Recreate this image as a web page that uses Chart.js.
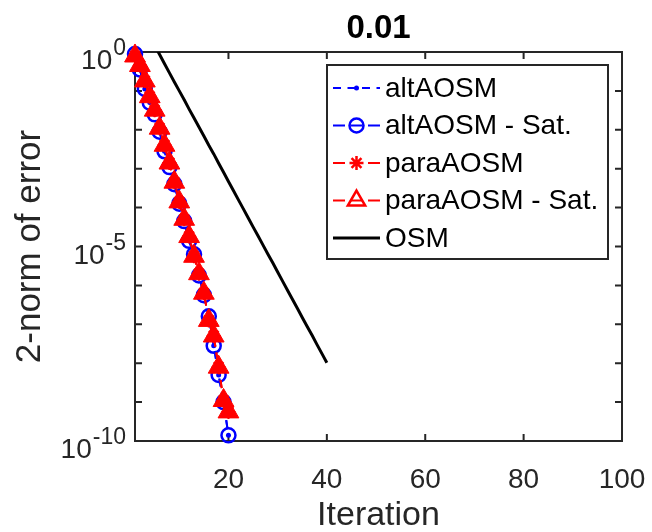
<!DOCTYPE html>
<html>
<head>
    <meta charset="utf-8">
    <title>0.01</title>
    <script src="https://cdn.jsdelivr.net/npm/chart.js"></script>
</head>
<body style="margin:0; background-color:white;">
<div style="width:652px; height:532px;">
    <canvas id="myChart"></canvas>
</div>
<script>
    // iterations 1..20 for the accelerated methods
    const iterations = [1, 2, 3, 4, 5, 6, 7, 8, 9, 10, 11, 12, 13, 14, 15, 16, 17, 18, 19, 20];
    const altAOSMErr = [0.89, 0.355, 0.112, 5.0e-2, 2.5e-2, 8.9e-3, 2.8e-3, 1.1e-3, 4.0e-4, 1.26e-4,
        4.5e-5, 1.4e-5, 6.3e-6, 1.8e-6, 5.6e-7, 1.6e-7, 2.8e-8, 5.0e-9, 1.0e-9, 1.4e-10];
    const paraAOSMErr = [0.79, 0.45, 0.18, 7.1e-2, 3.2e-2, 1.1e-2, 4.0e-3, 1.4e-3, 4.5e-4, 1.4e-4,
        5.0e-5, 1.8e-5, 5.6e-6, 2.0e-6, 6.3e-7, 1.26e-7, 5.0e-8, 7.9e-9, 1.1e-9, 5.6e-10];
    // the plain OSM runs to 40 iterations
    const osmIterations = [1, 2, 3, 4, 5, 6, 7, 8, 9, 10, 11, 12, 13, 14, 15, 16, 17, 18, 19, 20,
        21, 22, 23, 24, 25, 26, 27, 28, 29, 30, 31, 32, 33, 34, 35, 36, 37, 38, 39, 40];
    const osmErr = [12.6, 7.4, 4.3, 2.5, 1.47, 0.86, 0.50, 0.29, 0.17, 0.10,
        5.9e-2, 3.4e-2, 2.0e-2, 1.18e-2, 6.9e-3, 4.0e-3, 2.4e-3, 1.38e-3, 8.1e-4, 4.7e-4,
        2.75e-4, 1.6e-4, 9.4e-5, 5.5e-5, 3.2e-5, 1.9e-5, 1.1e-5, 6.4e-6, 3.8e-6, 2.2e-6,
        1.29e-6, 7.5e-7, 4.4e-7, 2.6e-7, 1.5e-7, 8.8e-8, 5.2e-8, 3.0e-8, 1.76e-8, 1.03e-8];

    const xTicks = [20, 40, 60, 80, 100];
    const yDecades = [0, -1, -2, -3, -4, -5, -6, -7, -8, -9, -10];
    const yLabelExps = [0, -5, -10];

    const FONT = '"Liberation Sans", Arial, sans-serif';
    const AXIS = '#262626';

    function pts(xs, ys) {
        return xs.map((x, i) => ({x: x, y: ys[i]}));
    }

    const matlabLook = {
        id: 'matlabLook',
        beforeDatasetsDraw(chart) {
            const {ctx, chartArea: a, scales: {x, y}} = chart;
            ctx.save();
            ctx.strokeStyle = AXIS;
            ctx.lineWidth = 2;
            ctx.strokeRect(a.left, a.top, a.right - a.left, a.bottom - a.top);
            const tl = 7;
            ctx.beginPath();
            xTicks.forEach(v => {
                const px = x.getPixelForValue(v);
                ctx.moveTo(px, a.bottom); ctx.lineTo(px, a.bottom - tl);
                ctx.moveTo(px, a.top); ctx.lineTo(px, a.top + tl);
            });
            yDecades.forEach(e => {
                const py = y.getPixelForValue(Math.pow(10, e));
                ctx.moveTo(a.left, py); ctx.lineTo(a.left + tl, py);
                ctx.moveTo(a.right, py); ctx.lineTo(a.right - tl, py);
            });
            ctx.stroke();
            ctx.restore();
        },
        afterDraw(chart) {
            const {ctx, chartArea: a, scales: {y}} = chart;
            ctx.save();

            // title
            ctx.fillStyle = '#000';
            ctx.font = 'bold 33px ' + FONT;
            ctx.textAlign = 'center';
            ctx.textBaseline = 'alphabetic';
            ctx.fillText('0.01', (a.left + a.right) / 2, 38);

            // y tick labels 10^n
            ctx.fillStyle = AXIS;
            yLabelExps.forEach(e => {
                const py = y.getPixelForValue(Math.pow(10, e));
                const exp = String(e);
                ctx.font = '23px ' + FONT;
                const ew = ctx.measureText(exp).width;
                ctx.textAlign = 'right';
                ctx.fillText(exp, 126, py + 3);
                ctx.font = '28px ' + FONT;
                ctx.fillText('10', 126 - ew - 1, py + 17);
            });

            // legend box inside the axes
            const bx = a.right - 295, by = a.top + 13, bw = 281, bh = 194;
            ctx.fillStyle = '#fff';
            ctx.fillRect(bx, by, bw, bh);
            ctx.strokeStyle = AXIS;
            ctx.lineWidth = 2;
            ctx.strokeRect(bx, by, bw, bh);

            chart.data.datasets.forEach((ds, i) => {
                const cy = by + 23 + i * 37.5;
                const x0 = bx + 6, x1 = bx + 53, cx = (x0 + x1) / 2;
                ctx.strokeStyle = ds.borderColor;
                ctx.lineWidth = ds.borderWidth;
                ctx.setLineDash(ds.legendDash || []);
                ctx.beginPath();
                ctx.moveTo(x0, cy); ctx.lineTo(x1, cy);
                ctx.stroke();
                ctx.setLineDash([]);
                if (ds.pointRadius > 0) {
                    ctx.fillStyle = ds.legendFill;
                    ctx.strokeStyle = ds.borderColor;
                    ctx.lineWidth = ds.legendPointBorder;
                    Chart.helpers.drawPoint(ctx, {
                        pointStyle: ds.pointStyle,
                        radius: ds.legendRadius,
                        rotation: 0,
                        borderWidth: ds.legendPointBorder
                    }, cx, cy);
                }
                ctx.fillStyle = '#000';
                ctx.font = '28px ' + FONT;
                ctx.textAlign = 'left';
                ctx.textBaseline = 'middle';
                ctx.fillText(ds.label, x1 + 5, cy + 1);
            });
            ctx.restore();
        }
    };

    const ctx = document.getElementById('myChart').getContext('2d');
    window.myChart = new Chart(ctx, {
        type: 'line',
        data: {
            datasets: [{
                label: 'altAOSM',
                data: pts(iterations, altAOSMErr),
                borderColor: '#0000ff',
                backgroundColor: '#0000ff',
                borderWidth: 2,
                borderDash: [8, 6],
                pointStyle: 'circle',
                pointRadius: 2.5,
                pointBorderWidth: 0,
                pointBackgroundColor: '#0000ff',
                legendDash: [8, 6.5],
                legendFill: '#0000ff',
                legendRadius: 2.5,
                legendPointBorder: 0,
                order: 4,
                clip: false
            }, {
                label: 'altAOSM - Sat.',
                data: pts(iterations, altAOSMErr),
                borderColor: '#0000ff',
                backgroundColor: 'rgba(0,0,0,0)',
                borderWidth: 2,
                borderDash: [8, 6],
                pointStyle: 'circle',
                pointRadius: 7,
                pointBorderWidth: 2.5,
                pointBackgroundColor: 'rgba(0,0,0,0)',
                pointBorderColor: '#0000ff',
                legendDash: [12, 5.5],
                legendFill: 'rgba(0,0,0,0)',
                legendRadius: 7,
                legendPointBorder: 2.5,
                order: 3,
                clip: false
            }, {
                label: 'paraAOSM',
                data: pts(iterations, paraAOSMErr),
                borderColor: '#ff0000',
                backgroundColor: '#ff0000',
                borderWidth: 2,
                borderDash: [8, 6],
                pointStyle: 'star',
                pointRadius: 7,
                pointBorderWidth: 2,
                pointBorderColor: '#ff0000',
                legendDash: [12, 5.5],
                legendFill: '#ff0000',
                legendRadius: 7,
                legendPointBorder: 2.5,
                order: 2,
                clip: false
            }, {
                label: 'paraAOSM - Sat.',
                data: pts(iterations, paraAOSMErr),
                borderColor: '#ff0000',
                backgroundColor: '#ff0000',
                borderWidth: 2,
                borderDash: [8, 6],
                pointStyle: 'triangle',
                pointRadius: 12,
                pointBorderWidth: 1,
                pointBackgroundColor: '#ff0000',
                pointBorderColor: '#ff0000',
                legendDash: [12, 5.5],
                legendFill: 'rgba(0,0,0,0)',
                legendRadius: 10,
                legendPointBorder: 2.5,
                order: 1,
                clip: false
            }, {
                label: 'OSM',
                data: pts(osmIterations, osmErr),
                borderColor: '#000000',
                backgroundColor: '#000000',
                borderWidth: 3,
                pointRadius: 0,
                order: 0
            }]
        },
        options: {
            animation: false,
            responsive: true,
            maintainAspectRatio: false,
            devicePixelRatio: 1,
            layout: {padding: {top: 52, right: 30, bottom: 0, left: 0}},
            elements: {line: {tension: 0, fill: false}},
            plugins: {
                legend: {display: false},
                tooltip: {enabled: false}
            },
            scales: {
                x: {
                    type: 'linear',
                    min: 1,
                    max: 100,
                    grid: {display: false},
                    border: {display: false},
                    afterBuildTicks(scale) {
                        scale.ticks = xTicks.map(v => ({value: v}));
                    },
                    ticks: {
                        color: AXIS,
                        font: {family: FONT, size: 28},
                        padding: 14,
                        maxRotation: 0,
                        autoSkip: false
                    },
                    title: {
                        display: true,
                        text: 'Iteration',
                        color: AXIS,
                        font: {family: FONT, size: 34},
                        padding: {top: 0, bottom: -4}
                    },
                    afterFit(scale) {
                        scale.height = 91;
                        scale.paddingLeft = 0;
                        scale.paddingRight = 0;
                    }
                },
                y: {
                    type: 'logarithmic',
                    min: 1e-10,
                    max: 1,
                    grid: {display: false},
                    border: {display: false},
                    ticks: {display: false},
                    title: {
                        display: true,
                        text: '2-norm of error',
                        color: AXIS,
                        font: {family: FONT, size: 35},
                        padding: {top: 9, bottom: 0}
                    },
                    afterFit(scale) {
                        scale.width = 135;
                        scale.paddingTop = 0;
                        scale.paddingBottom = 0;
                    }
                }
            }
        },
        plugins: [matlabLook]
    });
</script>
</body>
</html>
